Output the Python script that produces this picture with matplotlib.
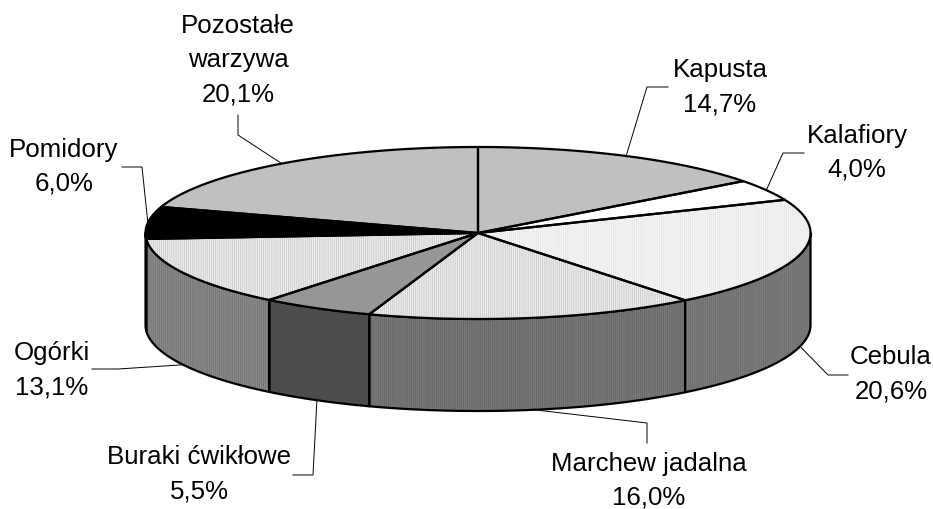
from __future__ import annotations

import numpy as np
import matplotlib
matplotlib.use("Agg")
import matplotlib.pyplot as plt
from matplotlib.patches import Polygon

names = ["Kapusta", "Kalafiory", "Cebula", "Marchew jadalna", "Buraki ćwikłowe",
         "Ogórki", "Pomidory", "Pozostałe\nwarzywa"]
values = [14.7, 4.0, 20.6, 16.0, 5.5, 13.1, 6.0, 20.1]
value_labels = ["14,7%", "4,0%", "20,6%", "16,0%", "5,5%", "13,1%", "6,0%", "20,1%"]

top_colors = ["#c0c0c0", "#ffffff", "#f5f5f5", "#efefef", "#969696", "#efefef", "#000000", "#c0c0c0"]
top_hatch = ["#c0c0c0", "#ffffff", "#e8e8e8", "#cccccc", "#969696", "#cccccc", "#000000", "#c0c0c0"]
side_colors = ["#808080", "#808080", "#7c7c7c", "#7c7c7c", "#4d4d4d", "#8c8c8c", "#000000", "#808080"]
side_hatch = ["#808080", "#808080", "#6e6e6e", "#666666", "#4d4d4d", "#747474", "#000000", "#808080"]

# text centre x and first baseline y, leader elbow points, all in pixels
label_pos = [(720, 77), (857, 143), (891, 364), (649, 471), (199, 464), (52, 360), (64, 157), (238, 33)]
elbows = [[(647, 87), (668, 87)], [(783, 153), (804, 153)], [(828, 375), (848, 375)],
          [(647, 423), (647, 443)], [(313, 475), (293, 475)], [(118, 369), (92, 369)],
          [(142, 167), (122, 167)], [(238, 135), (238, 115)]]

CX, CY, RX, RY, DEPTH = 478, 233, 332.5, 86, 92
LINE_H = 34

plt.rcParams["font.family"] = ["Liberation Sans", "DejaVu Sans"]
plt.rcParams["hatch.linewidth"] = 0.7


def ellipse_xy(theta, dy=0.0):
    # theta is clockwise from twelve o'clock
    return CX + RX * np.sin(theta), CY - RY * np.cos(theta) + dy


def filled(ax, xy, face, hatch_col, zorder):
    ax.add_patch(Polygon(xy, closed=True, facecolor=face, edgecolor=hatch_col, hatch="|" * 8,
                         linewidth=0, zorder=zorder))
    ax.add_patch(Polygon(xy, closed=True, fill=False, edgecolor="black", linewidth=1.6,
                         joinstyle="round", zorder=zorder + 0.5))


def main():
    fig = plt.figure(figsize=(9.33, 5.09), dpi=100)
    ax = fig.add_axes([0, 0, 1, 1])
    ax.set_xlim(0, 933)
    ax.set_ylim(509, 0)
    ax.axis("off")

    edges = np.concatenate([[0.0], np.cumsum(values)]) / sum(values) * 2 * np.pi

    # walls first, only the part facing the viewer (pi/2 .. 3pi/2)
    for i in range(len(values)):
        a0, a1 = max(edges[i], np.pi / 2), min(edges[i + 1], 3 * np.pi / 2)
        if a1 <= a0:
            continue
        t = np.linspace(a0, a1, 80)
        x, y = ellipse_xy(t)
        xb, yb = ellipse_xy(t[::-1], DEPTH)
        filled(ax, np.column_stack([np.r_[x, xb], np.r_[y, yb]]), side_colors[i], side_hatch[i], 2)

    # top face
    for i in range(len(values)):
        t = np.linspace(edges[i], edges[i + 1], 120)
        x, y = ellipse_xy(t)
        filled(ax, np.column_stack([np.r_[CX, x], np.r_[CY, y]]), top_colors[i], top_hatch[i], 3)

    # labels and leaders
    for i, name in enumerate(names):
        mid = (edges[i] + edges[i + 1]) / 2
        on_wall = np.pi / 2 < mid < 3 * np.pi / 2
        sx, sy = ellipse_xy(mid, DEPTH if on_wall else 0)
        pts = [(sx, sy)] + elbows[i]
        ax.plot(*zip(*pts), color="black", lw=0.7, zorder=1)
        lx, ly = label_pos[i]
        for j, line in enumerate(f"{name}\n{value_labels[i]}".split("\n")):
            ax.text(lx, ly + j * LINE_H, line, ha="center", va="baseline", fontsize=18.6, color="black")

    fig.savefig("out.png", dpi=100)
    plt.close(fig)


if __name__ == "__main__":
    main()
